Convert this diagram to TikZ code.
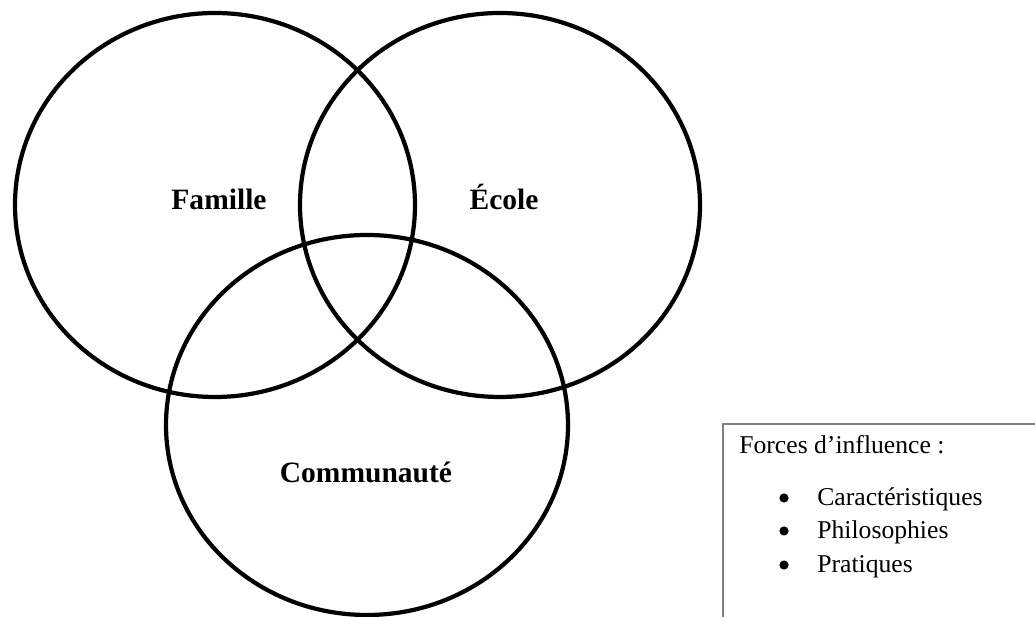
\documentclass[tikz,border=0pt]{standalone}
\usepackage{fontspec}
\setmainfont{Liberation Serif}
\begin{document}
\begin{tikzpicture}[x=0.02cm,y=-0.02cm,
    zone/.style={line width=2.4pt},
    lbl/.style={font=\fontsize{16.8}{20}\selectfont\bfseries,anchor=base,inner sep=0pt},
    txt/.style={font=\fontsize{14.6}{17}\selectfont,anchor=base west,inner sep=0pt}]
      \clip (0,0) rectangle (1035,617);
      % les trois cercles
      \draw[zone] (215,205) ellipse [x radius=200,y radius=192];
      \draw[zone] (500,205) ellipse [x radius=200,y radius=192];
      \draw[zone] (367,425) ellipse [x radius=201,y radius=190];
      \node[lbl] (famille) at (219,210) {Famille};
      \node[lbl] (ecole) at (504,210) {École};
      \node[lbl] (communaute) at (366,483) {Communauté};
      % encadré
      \draw[gray,line width=1pt] (723,640) -- (723,424) -- (1060,424);
      \node[txt] (forces) at (739,454) {Forces d’influence :};
      \node[txt] (caract) at (817,506) {Caractéristiques};
      \node[txt] (philo) at (817,539) {Philosophies};
      \node[txt] (prat) at (817,573) {Pratiques};
      \foreach \y in {498,531,565}
        \fill (784,\y) circle [radius=4.6];
\end{tikzpicture}
\end{document}
